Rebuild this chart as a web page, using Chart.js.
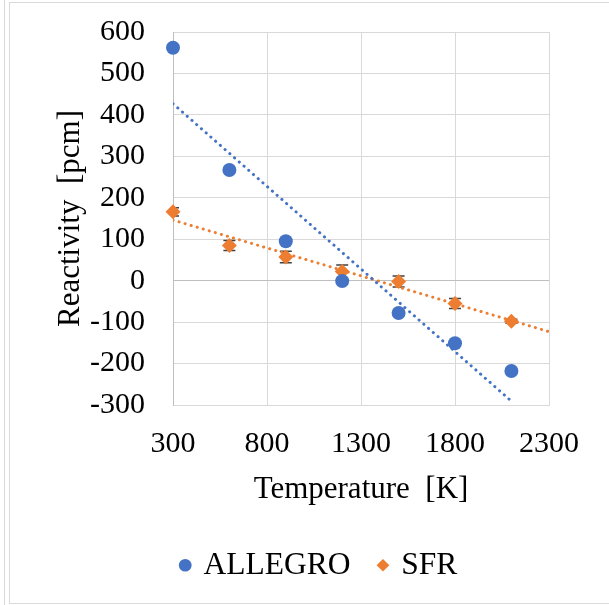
<!DOCTYPE html>
<html>
<head>
<meta charset="utf-8">
<script src="https://cdn.jsdelivr.net/npm/chart.js@4.4.1/dist/chart.umd.min.js"></script>
<style>
    html, body { margin: 0; padding: 0; background: #fff; }
    #frame { position: relative; width: 609px; height: 605px; }
    #lineaA { position: absolute; left: 4px; top: 0; width: 1px; height: 605px; background: #d9d9d9; }
    #box {
        position: absolute; left: 9px; top: 2px; width: 600px; height: 602px; box-sizing: border-box;
        border-left: 1px solid #d9d9d9; border-top: 1px solid #d9d9d9; border-bottom: 1px solid #d9d9d9;
    }
    #grafico { position: absolute; left: 0; top: 0; }
</style>
</head>
<body>
<div id="frame">
    <div id="lineaA"></div>
    <div id="box"></div>
    <canvas id="grafico" width="609" height="605"></canvas>
</div>
<script>
// dati
const temperature = [300, 600, 900, 1200, 1500, 1800, 2100]
const allegro = [562, 267, 95, -1, -78, -151, -218]
const sfr = [166, 85, 57, 22, -2, -55, -98]
const sfrErr = [10, 12, 14, 16, 13, 12, 5]
const xTicks = [300, 800, 1300, 1800, 2300]
const allegroTrendRange = [300, 2100]
const sfrTrendRange = [300, 2300]

const blu = '#4472C4'
const arancio = '#ED7D31'
const famiglia = "'Liberation Serif', 'Times New Roman', serif"
const fontTick = { family: famiglia, size: 30 }
const fontTitolo = { family: famiglia, size: 31 }
const fontLegenda = { family: famiglia, size: 31.5 }

function retta(xs, ys) {
    let n = xs.length
    let mx = xs.reduce((p, c) => p + c) / n
    let my = ys.reduce((p, c) => p + c) / n
    let num = 0, den = 0
    xs.forEach((x, i) => {
        num += (x - mx) * (ys[i] - my)
        den += (x - mx) ** 2
    })
    let m = num / den
    return x => my + m * (x - mx)
}

function tendenza(ys, range) {
    let f = retta(temperature, ys)
    return range.map(x => ({ x: x, y: f(x) }))
}

const barreErrore = {
    id: 'barreErrore',
    beforeDatasetsDraw(chart) {
        const { ctx, chartArea, scales: { x, y } } = chart
        ctx.save()
        ctx.beginPath()
        ctx.rect(chartArea.left, chartArea.top, chartArea.right - chartArea.left, chartArea.bottom - chartArea.top)
        ctx.clip()
        ctx.strokeStyle = '#404040'
        ctx.lineWidth = 1.5
        temperature.forEach((t, i) => {
            let px = x.getPixelForValue(t)
            let top = y.getPixelForValue(sfr[i] + sfrErr[i])
            let bot = y.getPixelForValue(sfr[i] - sfrErr[i])
            ctx.beginPath()
            ctx.moveTo(px, top); ctx.lineTo(px, bot)
            ctx.moveTo(px - 6, top); ctx.lineTo(px + 6, top)
            ctx.moveTo(px - 6, bot); ctx.lineTo(px + 6, bot)
            ctx.stroke()
        })
        ctx.restore()
    }
}

// sposta la legenda verso destra come nell'originale
const spostaLegenda = {
    id: 'spostaLegenda',
    afterLayout(chart) {
        chart.legend.left += 24
        chart.legend.right += 24
    }
}

new Chart(
    document.getElementById('grafico'),
    {
        type: 'scatter',
        data: {
            datasets: [
                {
                    label: 'ALLEGRO',
                    data: temperature.map((t, i) => ({ x: t, y: allegro[i] })),
                    pointStyle: 'circle',
                    pointRadius: 7,
                    backgroundColor: blu,
                    borderColor: blu,
                    borderWidth: 0,
                    clip: false,
                    order: 2
                },
                {
                    label: 'SFR',
                    data: temperature.map((t, i) => ({ x: t, y: sfr[i] })),
                    pointStyle: 'rectRot',
                    pointRadius: 7.5,
                    backgroundColor: arancio,
                    borderColor: arancio,
                    borderWidth: 0,
                    clip: false,
                    order: 2
                },
                {
                    label: 'trend ALLEGRO',
                    data: tendenza(allegro, allegroTrendRange),
                    showLine: true,
                    pointRadius: 0,
                    borderColor: blu,
                    borderWidth: 3,
                    borderDash: [0.1, 6.2],
                    borderCapStyle: 'round',
                    order: 1
                },
                {
                    label: 'trend SFR',
                    data: tendenza(sfr, sfrTrendRange),
                    showLine: true,
                    pointRadius: 0,
                    borderColor: arancio,
                    borderWidth: 3,
                    borderDash: [0.1, 6.2],
                    borderCapStyle: 'round',
                    order: 1
                }
            ]
        },
        options: {
            responsive: false,
            animation: false,
            layout: {
                padding: { top: 32, left: 43, right: 60, bottom: 14 }
            },
            scales: {
                x: {
                    type: 'linear',
                    min: 300,
                    max: 2300,
                    afterBuildTicks: s => { s.ticks = xTicks.map(v => ({ value: v })) },
                    afterFit: s => { s.height = 114.5 },
                    grid: { color: '#d9d9d9', drawTicks: false },
                    border: { color: '#d9d9d9' },
                    ticks: { font: fontTick, color: '#000', padding: 21, maxRotation: 0, callback: v => String(v) },
                    title: { display: true, text: 'Temperature  [K]', font: fontTitolo, color: '#000', padding: { top: 0, bottom: 11 } }
                },
                y: {
                    min: -300,
                    max: 600,
                    afterFit: s => { s.width = 130 },
                    grid: {
                        color: c => c.tick && c.tick.value === 0 ? '#bfbfbf' : '#d9d9d9',
                        drawTicks: true,
                        tickLength: 28,
                        tickColor: 'rgba(0,0,0,0)'
                    },
                    border: { color: '#bfbfbf' },
                    ticks: { stepSize: 100, font: fontTick, color: '#000', padding: 0, callback: v => String(v) },
                    title: { display: true, text: 'Reactivity  [pcm]', font: fontTitolo, color: '#000', padding: { top: 9, bottom: 0 } }
                }
            },
            plugins: {
                tooltip: { enabled: false },
                legend: {
                    position: 'bottom',
                    labels: {
                        usePointStyle: true,
                        boxWidth: 5,
                        boxHeight: 9,
                        padding: 30,
                        font: fontLegenda,
                        color: '#000',
                        filter: item => item.text === 'ALLEGRO' || item.text === 'SFR'
                    }
                }
            }
        },
        plugins: [barreErrore, spostaLegenda]
    }
)
</script>
</body>
</html>
